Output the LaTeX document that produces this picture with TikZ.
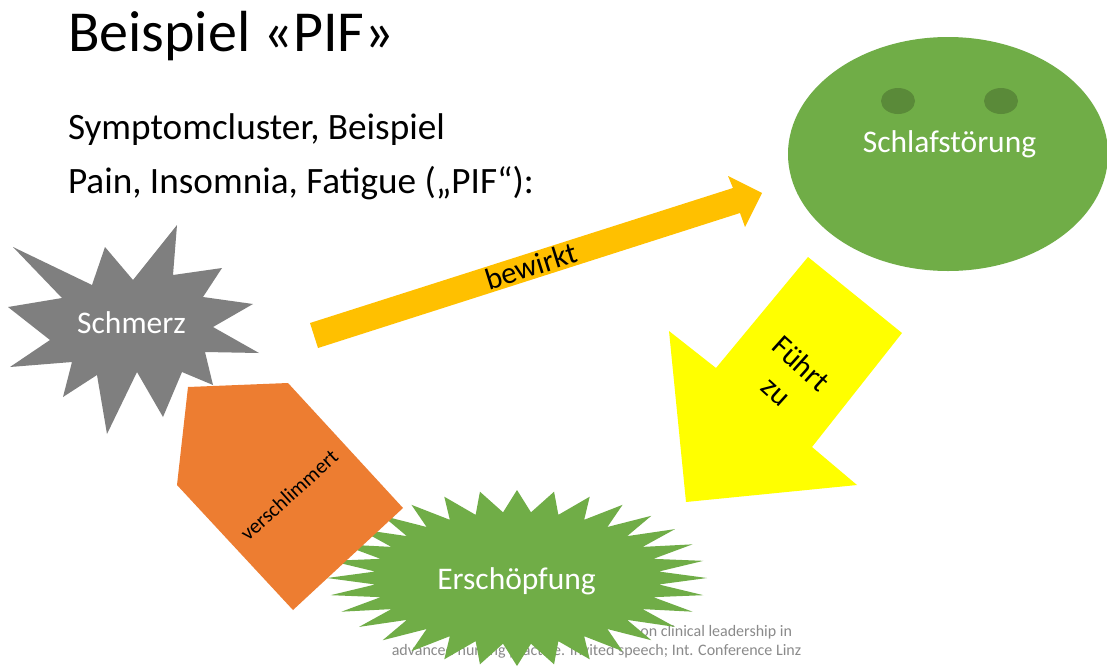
\documentclass[tikz,border=0pt]{standalone}
\usepackage{fontspec}
\setmainfont{Carlito}
\usetikzlibrary{calc}

\definecolor{paingray}{HTML}{7F7F7F}
\definecolor{worseorange}{HTML}{ED7D31}
\definecolor{causegold}{HTML}{FFC000}
\definecolor{leadyellow}{HTML}{FFFF00}
\definecolor{leafgreen}{HTML}{70AD47}
\definecolor{eyegreen}{HTML}{5A8A39}
\definecolor{footgray}{HTML}{8A8A8A}

\begin{document}
\begin{tikzpicture}[x=1pt,y=-1pt,
  every node/.style={inner sep=0pt, outer sep=0pt},
  heading/.style={anchor=base west, font=\fontsize{58}{70}\selectfont},
  bodyline/.style={anchor=base west, font=\fontsize{37.2}{44}\selectfont},
  shapelabel/.style={anchor=base, text=white, font=\fontsize{31.5}{38}\selectfont},
  arrowlabel/.style={text=black, align=center},
  footline/.style={text=footgray, font=\fontsize{16}{19}\selectfont}]

\useasboundingbox (0,0) rectangle (1107,667);
\fill[white] (0,0) rectangle (1107,667);

% headings
\node[heading] (title) at (68,51) {Beispiel «PIF»};
\node[bodyline] (line1) at (68,139) {Symptomcluster, Beispiel};
\node[bodyline] (line2) at (68,193) {Pain, Insomnia, Fatigue („PIF“):};

% footer reference (partly covered by the star)
\node[footline, anchor=base east] (foot1) at (792,636) {on clinical leadership in};
\node[footline, anchor=base] (foot2) at (596.5,655) {advanced nursing practice. Invited speech; Int. Conference Linz};

% sleep disorder: face-like ellipse
\fill[leafgreen] (948,154) ellipse[x radius=160, y radius=117];
\fill[eyegreen] (898,101) ellipse[x radius=17, y radius=13];
\fill[eyegreen] (1001,101) ellipse[x radius=17, y radius=13];
\node[shapelabel] (sleep) at (949.5,152) {Schlafstörung};

% pain: irregular explosion
\fill[paingray] (177,225) -- (173,275) -- (222,268) -- (203,297) -- (253,304)
  -- (213,327) -- (259,353) -- (205,352) -- (213,385) -- (182,372) -- (163,417)
  -- (137,372) -- (107,434) -- (97,375) -- (63,397) -- (72,362) -- (10,367)
  -- (50,340) -- (8,307) -- (62,298) -- (13,247) -- (92,285) -- (105,247)
  -- (133,280) -- cycle;
\node[shapelabel] (pain) at (131.5,333) {Schmerz};

% fatigue: 32-point star
\fill[leafgreen] plot[samples at={0,...,63}, variable=\k]
  ({517+(isodd(\k)?142.5:190)*cos(\k*5.625)}, {578+(isodd(\k)?66:88)*sin(\k*5.625)}) -- cycle;
\node[shapelabel] (fatigue) at (516.5,589) {Erschöpfung};

% "bewirkt" arrow
\fill[causegold] (310,323) -- (733,188) -- (728,176) -- (762,193) -- (745,227)
  -- (740,213) -- (318,348) -- cycle;
\node[arrowlabel, rotate=17.5, font=\fontsize{30.5}{36}\selectfont] (causes) at (531,266) {bewirkt};

% "Führt zu" arrow
\fill[leadyellow] (808,257) -- (902,333) -- (812,447) -- (857,485) -- (686,502)
  -- (669,331) -- (716,368) -- cycle;
\node[arrowlabel, rotate=-42, font=\fontsize{30}{37}\selectfont] (leads) at (789,377) {Führt\\zu};

% "verschlimmert" pentagon arrow
\fill[worseorange] (188,387) -- (288,383) -- (403,508) -- (293,610) -- (177,485) -- cycle;
\node[arrowlabel, rotate=42, font=\fontsize{21}{25}\selectfont] (worsens) at (289,495) {verschlimmert};

\end{tikzpicture}
\end{document}
